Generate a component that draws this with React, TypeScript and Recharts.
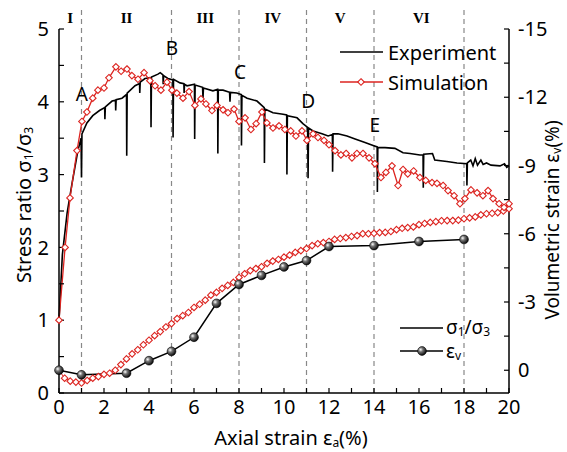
import { LineChart, Line, XAxis, YAxis, ReferenceLine, ReferenceDot } from "recharts";

const RED = "#dc2420";
const FONT = "'Noto Sans', sans-serif";

// axis ticks (minor ticks have blank labels)
const strainTicks = [0, 1, 2, 3, 4, 5, 6, 7, 8, 9, 10, 11, 12, 13, 14, 15, 16, 17, 18, 19, 20];
const stressTicks = [0, 0.5, 1, 1.5, 2, 2.5, 3, 3.5, 4, 4.5, 5];
const volTicks = [-15, -13.5, -12, -10.5, -9, -7.5, -6, -4.5, -3, -1.5, 0];

// stage boundaries and labels
const stageBounds = [1, 5, 8, 11, 14, 18];
const stageNames = ["I", "II", "III", "IV", "V", "VI"];
const stageCenters = [0.5, 3, 6.5, 9.5, 12.5, 16.1];

// characteristic points
const pointNames = ["A", "B", "C", "D", "E"];
const pointX = [1.02, 5.02, 8.04, 11.07, 14.04];
const pointY = [4.11, 4.74, 4.41, 4.01, 3.68];

// experiment: stress ratio (axial strain %, sigma1/sigma3)
const expStress: [number, number][] = [
  [0, 1.0], [0.15, 1.9], [0.36, 2.47], [0.58, 2.88], [0.84, 3.33], [0.98, 3.5], [1.0, 2.96], [1.02, 3.56],
  [1.24, 3.71], [1.5, 3.81], [1.8, 3.88], [2.03, 3.92], [2.04, 3.76], [2.06, 3.93], [2.36, 4.01], [2.51, 4.02],
  [2.52, 3.88], [2.54, 4.03], [2.8, 4.05], [3.0, 4.1], [3.01, 3.26], [3.03, 4.12], [3.38, 4.22], [3.58, 4.25],
  [3.59, 4.12], [3.61, 4.27], [3.82, 4.32], [4.08, 4.33], [4.09, 3.65], [4.11, 4.34], [4.4, 4.38], [4.5, 4.4],
  [4.62, 4.37], [4.63, 4.24], [4.65, 4.36], [4.84, 4.32], [5.06, 4.3], [5.07, 3.51], [5.09, 4.31], [5.38, 4.26],
  [5.55, 4.25], [5.56, 4.12], [5.58, 4.24], [5.69, 4.22], [6.02, 4.24], [6.03, 3.49], [6.05, 4.23], [6.38, 4.2],
  [6.4, 4.05], [6.42, 4.19], [6.84, 4.15], [7.05, 4.17], [7.06, 3.29], [7.08, 4.16], [7.29, 4.16], [7.58, 4.13],
  [7.6, 4.0], [7.62, 4.13], [7.9, 4.12], [8.1, 4.1], [8.11, 3.4], [8.13, 4.09], [8.36, 4.05], [8.8, 4.01],
  [9.12, 3.92], [9.13, 3.16], [9.15, 3.9], [9.51, 3.85], [9.96, 3.83], [10.12, 3.82], [10.13, 3.0], [10.15, 3.81],
  [10.58, 3.78], [10.84, 3.7], [11.05, 3.65], [11.07, 2.95], [11.09, 3.64], [11.29, 3.6], [11.69, 3.56], [11.96, 3.53],
  [12.15, 3.55], [12.16, 3.04], [12.18, 3.56], [12.4, 3.56], [12.8, 3.53], [13.16, 3.49], [13.6, 3.44], [13.96, 3.4],
  [14.14, 3.38], [14.15, 2.76], [14.17, 3.37], [14.49, 3.37], [14.93, 3.36], [15.29, 3.3], [15.6, 3.29], [16.04, 3.27],
  [16.18, 3.27], [16.19, 2.82], [16.21, 3.28], [16.6, 3.29], [16.7, 3.2], [17.24, 3.18], [17.69, 3.16], [18.12, 3.15],
  [18.13, 2.85], [18.15, 3.16], [18.3, 3.2], [18.4, 3.12], [18.5, 3.22], [18.6, 3.13], [18.75, 3.2], [18.85, 3.14],
  [19.0, 3.16], [19.2, 3.13], [19.6, 3.12], [19.8, 3.15], [19.9, 3.1], [20.0, 3.12],
];

// simulation: stress ratio
const simStress: [number, number][] = [
  [0, 1.0], [0.27, 2.0], [0.49, 2.68], [0.8, 3.33], [1.02, 3.73], [1.24, 3.86], [1.5, 4.05], [1.73, 4.16],
  [2.0, 4.19], [2.22, 4.33], [2.53, 4.48], [2.76, 4.42], [3.02, 4.45], [3.24, 4.36], [3.51, 4.31], [3.78, 4.4],
  [4.04, 4.29], [4.27, 4.22], [4.53, 4.16], [4.8, 4.27], [5.02, 4.16], [5.24, 4.12], [5.51, 4.05], [5.78, 4.14],
  [6.04, 3.95], [6.31, 4.04], [6.53, 3.97], [6.8, 3.88], [7.02, 3.95], [7.29, 3.89], [7.51, 3.85], [7.78, 3.9],
  [8.0, 3.73], [8.27, 3.78], [8.53, 3.62], [8.76, 3.7], [9.02, 3.86], [9.24, 3.71], [9.51, 3.64], [9.78, 3.67],
  [10.04, 3.62], [10.3, 3.6], [10.53, 3.53], [10.8, 3.6], [11.02, 3.47], [11.29, 3.56], [11.51, 3.51], [11.78, 3.47],
  [12.0, 3.41], [12.27, 3.33], [12.53, 3.27], [12.76, 3.29], [13.02, 3.23], [13.24, 3.29], [13.51, 3.29], [13.78, 3.23],
  [14.04, 3.15], [14.31, 2.96], [14.53, 3.03], [14.8, 3.12], [15.07, 2.85], [15.29, 3.07], [15.5, 3.01], [15.76, 3.05],
  [16.04, 2.96], [16.3, 2.92], [16.58, 2.89], [16.8, 2.88], [17.07, 2.85], [17.29, 2.78], [17.56, 2.71], [17.82, 2.6],
  [18.04, 2.67], [18.31, 2.79], [18.58, 2.75], [18.84, 2.71], [19.07, 2.78], [19.29, 2.67], [19.56, 2.6], [19.78, 2.55],
  [20.0, 2.6],
];

// experiment: volumetric strain (%)
const expVol: [number, number][] = [
  [0, 0], [1, 0.2], [3, 0.13], [4, -0.42], [5, -0.83], [6, -1.45], [7, -2.94], [8, -3.77],
  [9, -4.17], [10, -4.54], [11, -4.82], [12, -5.44], [14, -5.48], [16, -5.66], [18, -5.75],
];

// simulation: volumetric strain (%)
const simVol: [number, number][] = [
  [0, 0], [0.25, 0.35], [0.5, 0.48], [0.75, 0.52], [1, 0.56], [1.25, 0.45], [1.5, 0.35], [1.75, 0.28],
  [2, 0.18], [2.25, 0.13], [2.5, 0], [2.75, -0.25], [3, -0.5], [3.25, -0.72], [3.5, -0.9], [3.75, -1.12],
  [4, -1.32], [4.25, -1.52], [4.5, -1.7], [4.75, -1.9], [5, -2.05], [5.25, -2.27], [5.5, -2.4], [5.75, -2.54],
  [6, -2.76], [6.25, -2.9], [6.5, -3.08], [6.75, -3.3], [7, -3.42], [7.25, -3.6], [7.5, -3.73], [7.75, -3.86],
  [8, -4.08], [8.25, -4.24], [8.5, -4.38], [8.75, -4.47], [9, -4.55], [9.25, -4.7], [9.5, -4.8], [9.75, -4.87],
  [10, -4.97], [10.25, -5.06], [10.5, -5.18], [10.75, -5.26], [11, -5.35], [11.25, -5.48], [11.5, -5.56], [11.75, -5.61],
  [12, -5.66], [12.25, -5.75], [12.5, -5.79], [12.75, -5.83], [13, -5.88], [13.25, -5.92], [13.5, -6.0], [13.75, -6.0],
  [14, -6.02], [14.25, -6.05], [14.5, -6.06], [14.75, -6.1], [15, -6.18], [15.25, -6.24], [15.5, -6.27], [15.75, -6.3],
  [16, -6.4], [16.25, -6.45], [16.5, -6.5], [16.75, -6.53], [17, -6.57], [17.25, -6.58], [17.5, -6.58], [17.75, -6.6],
  [18, -6.66], [18.25, -6.7], [18.5, -6.74], [18.75, -6.83], [19, -6.88], [19.25, -6.9], [19.5, -6.93], [19.75, -7.0],
  [20, -7.1],
];

const rows = (pts: [number, number][]) => pts.map(([x, y]) => ({ x, y }));

function diamondPath(cx: number, cy: number, s: number) {
  return `M${cx},${cy - s}L${cx + s},${cy}L${cx},${cy + s}L${cx - s},${cy}Z`;
}

const Diamond = (props: any) => {
  const { cx, cy, index } = props;
  if (cx == null || cy == null) return <g key={index} />;
  return <path key={index} d={diamondPath(cx, cy, 3.3)} fill="#fff" stroke={RED} strokeWidth={1.1} />;
};

const Ball = (props: any) => {
  const { cx, cy, index } = props;
  if (cx == null || cy == null) return <g key={index} />;
  return <circle key={index} cx={cx} cy={cy} r={4.4} fill="url(#ball)" stroke="#000" strokeWidth={0.6} />;
};

const axisLine = { stroke: "#000", strokeWidth: 1.5 };
const tickLine = { stroke: "#000", strokeWidth: 1.2 };
const tickStyle = { fill: "#000", fontSize: 20, fontFamily: FONT };
const sub = { fontSize: 12 };

export default function App() {
  return (
    <div style={{ position: "absolute", left: 0, top: 0, width: 567, height: 452, background: "#fff", fontFamily: FONT }}>
      <LineChart width={567} height={452} margin={{ top: 29, right: 0, bottom: 0, left: 0 }}>
        <defs>
          <radialGradient id="ball" cx="35%" cy="35%" r="70%">
            <stop offset="0%" stopColor="#ffffff" />
            <stop offset="35%" stopColor="#777777" />
            <stop offset="100%" stopColor="#000000" />
          </radialGradient>
        </defs>
        <XAxis
          dataKey="x"
          type="number"
          domain={[0, 20]}
          ticks={strainTicks}
          interval={0}
          tickFormatter={(v) => (v % 2 === 0 ? String(v) : "")}
          height={59}
          tickSize={-5}
          tickMargin={12}
          axisLine={axisLine}
          tickLine={tickLine}
          tick={tickStyle}
        />
        <XAxis xAxisId="top" orientation="top" type="number" domain={[0, 20]} height={0} tick={false} tickLine={false} axisLine={axisLine} />
        <YAxis
          yAxisId="left"
          type="number"
          domain={[0, 5]}
          ticks={stressTicks}
          interval={0}
          tickFormatter={(v) => (Number.isInteger(v) ? String(v) : "")}
          width={59}
          tickSize={-5}
          tickMargin={15}
          axisLine={axisLine}
          tickLine={tickLine}
          tick={tickStyle}
        />
        <YAxis
          yAxisId="right"
          orientation="right"
          type="number"
          domain={[-15, 1]}
          reversed
          ticks={volTicks}
          interval={0}
          tickFormatter={(v) => (v % 3 === 0 ? String(v) : "")}
          width={58}
          tickSize={-5}
          tickMargin={14}
          axisLine={axisLine}
          tickLine={tickLine}
          tick={tickStyle}
        />

        {stageBounds.map((b) => (
          <ReferenceLine
            key={`stage-${b}`}
            yAxisId="left"
            segment={[{ x: b, y: 0 }, { x: b, y: 5.27 }]}
            ifOverflow="visible"
            stroke="#888"
            strokeWidth={1.2}
            strokeDasharray="5 4"
          />
        ))}
        {stageNames.map((n, i) => (
          <ReferenceDot
            key={`name-${n}`}
            yAxisId="left"
            x={stageCenters[i]}
            y={5.15}
            r={0}
            ifOverflow="visible"
            label={{ value: n, position: "center", fill: "#000", fontSize: 15, fontWeight: 700, fontFamily: "'Liberation Serif', serif" }}
          />
        ))}
        {pointNames.map((n, i) => (
          <ReferenceDot
            key={`pt-${n}`}
            yAxisId="left"
            x={pointX[i]}
            y={pointY[i]}
            r={0}
            ifOverflow="visible"
            label={{ value: n, position: "center", fill: "#000", fontSize: 19, fontFamily: FONT }}
          />
        ))}

        <Line yAxisId="right" data={rows(simVol)} dataKey="y" type="linear" stroke={RED} strokeWidth={1} dot={Diamond} isAnimationActive={false} />
        <Line yAxisId="right" data={rows(expVol)} dataKey="y" type="linear" stroke="#000" strokeWidth={1.5} dot={Ball} isAnimationActive={false} />
        <Line yAxisId="left" data={rows(expStress)} dataKey="y" type="linear" stroke="#000" strokeWidth={1.6} dot={false} isAnimationActive={false} />
        <Line yAxisId="left" data={rows(simStress)} dataKey="y" type="linear" stroke={RED} strokeWidth={1.3} dot={Diamond} isAnimationActive={false} />
      </LineChart>

      <svg width={567} height={452} style={{ position: "absolute", left: 0, top: 0, pointerEvents: "none" }} fontFamily={FONT}>
        <defs>
          <radialGradient id="ballLegend" cx="35%" cy="35%" r="70%">
            <stop offset="0%" stopColor="#ffffff" />
            <stop offset="35%" stopColor="#777777" />
            <stop offset="100%" stopColor="#000000" />
          </radialGradient>
        </defs>
        {/* legends */}
        <line x1={340} x2={383} y1={52} y2={52} stroke="#000" strokeWidth={1.6} />
        <text x={388} y={52} fontSize={20} dominantBaseline="central">Experiment</text>
        <line x1={340} x2={383} y1={82} y2={82} stroke={RED} strokeWidth={1.3} />
        <path d={diamondPath(361, 82, 3.3)} fill="#fff" stroke={RED} strokeWidth={1.1} />
        <text x={388} y={82} fontSize={20} dominantBaseline="central">Simulation</text>

        <line x1={400} x2={443} y1={328} y2={328} stroke="#000" strokeWidth={1.6} />
        <text x={446} y={327} fontSize={19} dominantBaseline="central">
          σ<tspan dy={4} {...sub}>1</tspan><tspan dy={-4}>/σ</tspan><tspan dy={4} {...sub}>3</tspan>
        </text>
        <line x1={400} x2={443} y1={351} y2={351} stroke="#000" strokeWidth={1.5} />
        <circle cx={422} cy={351} r={4.4} fill="url(#ballLegend)" stroke="#000" strokeWidth={0.6} />
        <text x={446} y={351} fontSize={19} dominantBaseline="central">
          ε<tspan dy={4} {...sub}>v</tspan>
        </text>

        {/* axis titles */}
        <text x={291} y={437} fontSize={20} textAnchor="middle" dominantBaseline="central">
          Axial strain  ε<tspan dy={5} {...sub}>a</tspan><tspan dy={-5}>(%)</tspan>
        </text>
        <text transform="rotate(-90)" x={-205} y={23} fontSize={20} textAnchor="middle" dominantBaseline="central">
          Stress ratio σ<tspan dy={5} {...sub}>1</tspan><tspan dy={-5}>/σ</tspan><tspan dy={5} {...sub}>3</tspan>
        </text>
        <text transform="rotate(-90)" x={-220} y={552} fontSize={19} textAnchor="middle" dominantBaseline="central">
          Volumetric strain ε<tspan dy={4} {...sub}>v</tspan><tspan dy={-4}>(%)</tspan>
        </text>
      </svg>
    </div>
  );
}
